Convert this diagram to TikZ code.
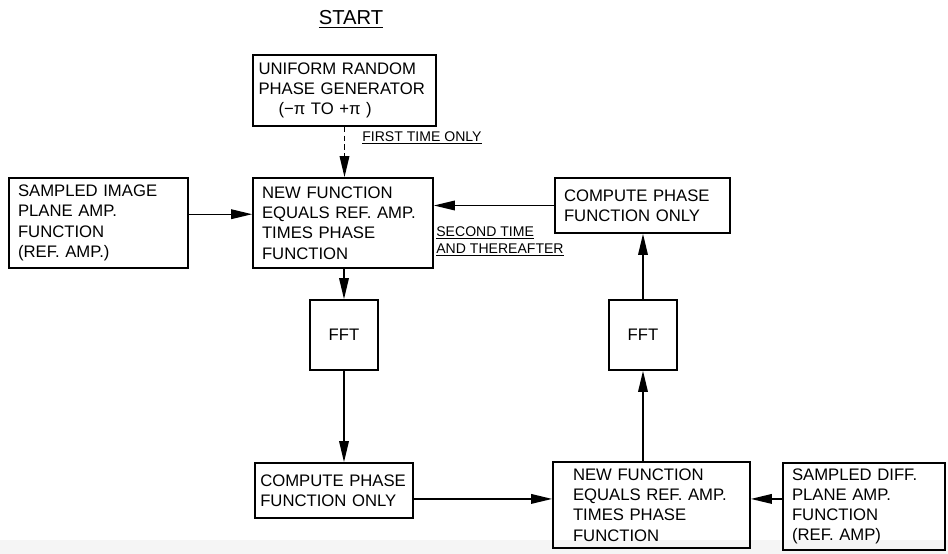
\documentclass[tikz,border=0pt]{standalone}
\usepackage{fontspec}
\setmainfont{Liberation Sans}
\usetikzlibrary{arrows.meta, positioning}
\tikzset{
  box/.style={draw, line width=1pt, inner xsep=0.18cm, inner ysep=2pt, align=left, font=\fontsize{9.5}{11.5}\selectfont},
  fftbox/.style={text width=1.0cm, align=center, minimum height=1.4cm},
  flow/.style={line width=0.8pt, -{Triangle[length=12pt,width=5.5pt]}},
  note/.style={inner sep=0pt, align=left, font=\fontsize{8}{9.6}\selectfont},
}

\begin{document}
\begin{tikzpicture}[x=0.02cm, y=-0.02cm]
  \fill[black!4] (0,540) rectangle (948,554);
  \useasboundingbox (0,0) rectangle (948,554);

  % top row
  \node (start) at (351,19) {\fontsize{11.5}{13}\selectfont\underline{START}};
  \node[box, text width=3.44cm, inner xsep=0.11cm, minimum height=1.42cm] (gen) at (344.5,90.5) {UNIFORM RANDOM\\PHASE GENERATOR\\\hspace*{1.2em}(−π TO +π )};
  \node[note, anchor=west] (first) at (362,138) {\underline{FIRST TIME ONLY}};
  \node[box, text width=3.22cm, minimum height=1.8cm] (img) at (98.5,223) {SAMPLED IMAGE\\PLANE AMP.\\FUNCTION\\(REF. AMP.)};
  \node[box, text width=3.24cm, minimum height=1.8cm] (newa) at (343,223) {NEW FUNCTION\\EQUALS REF. AMP.\\TIMES PHASE\\FUNCTION};
  \node[box, text width=3.14cm, minimum height=1.1cm] (cpa) at (642.5,205.5) {COMPUTE PHASE\\FUNCTION ONLY};
  \node[note, anchor=north west] (second) at (436,226) {\underline{SECOND TIME}\\\underline{AND THEREAFTER}};

  % middle
  \node[box, fftbox] (ffta) at (344,335) {FFT};
  \node[box, fftbox] (fftb) at (643,335) {FFT};

  % bottom row
  \node[box, text width=2.95cm, inner xsep=0.1cm, minimum height=1.1cm] (cpb) at (334,490.5) {COMPUTE PHASE\\FUNCTION ONLY};
  \node[box, text width=3.14cm, inner xsep=0.4cm, minimum height=1.72cm] (newb) at (651.5,505) {NEW FUNCTION\\EQUALS REF. AMP.\\TIMES PHASE\\FUNCTION};
  \node[box, text width=2.88cm, minimum height=1.74cm] (diff) at (864,506.5) {SAMPLED DIFF.\\PLANE AMP.\\FUNCTION\\(REF. AMP)};

  % connectors
  \draw[flow, dash pattern=on 3pt off 2pt] (gen.south) -- (gen.south |- newa.north);
  \coordinate (imgout) at ([yshift=5pt]img.east);
  \draw[flow] (imgout) -- (imgout -| newa.west);
  \draw[flow] (cpa.west) -- (cpa.west -| newa.east);
  \draw[flow] (newa.south -| ffta.north) -- (ffta.north);
  \draw[flow] (ffta.south) -- (ffta.south |- cpb.north);
  \coordinate (cpbout) at ([yshift=-4.8pt]cpb.east);
  \draw[flow] (cpbout) -- (cpbout -| newb.west);
  \draw[flow] (cpbout -| diff.west) -- (cpbout -| newb.east);
  \draw[flow] (newb.north -| fftb.south) -- (fftb.south);
  \draw[flow] (fftb.north) -- (fftb.north |- cpa.south);
\end{tikzpicture}
\end{document}
